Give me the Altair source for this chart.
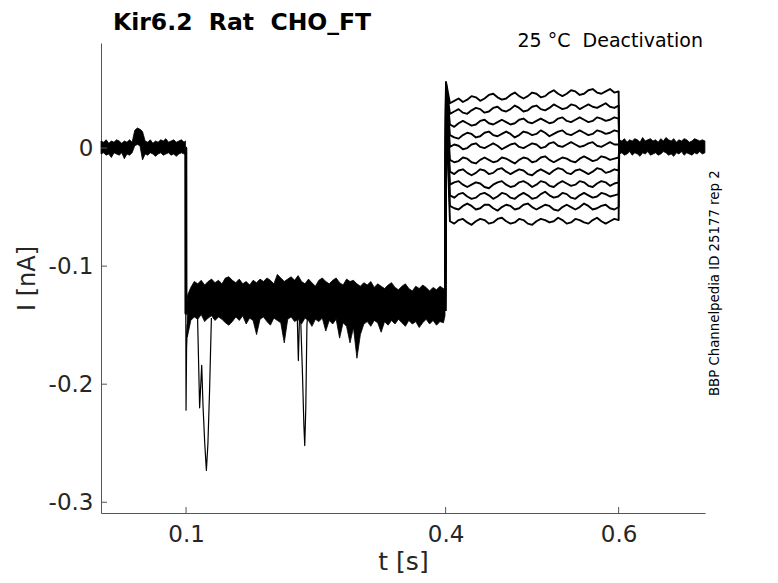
import altair as alt
import pandas as pd

# ---------------- axes ----------------
X_DOMAIN = [0.0017, 0.6998]
Y_DOMAIN = [-0.3091, 0.089]
X_TICKS = [0.1, 0.4, 0.6]
Y_TICKS = [0, -0.1, -0.2, -0.3]

TITLE = "Kir6.2\u00a0 Rat\u00a0 CHO_FT"
COND = "25 °C\u00a0 Deactivation"
SIDE = "BBP Channelpedia ID 25177 rep 2"

# ---------------- sample grids (s) ----------------
pre_t = [round(0.0017 + 0.003 * k, 4) for k in range(33)] + [0.0993]
mid_t = [round(0.1015 + 0.004 * k, 4) for k in range(75)] + [0.3993]
post_t = [round(0.6007 + 0.003 * k, 4) for k in range(34)]
deact_t = [round(0.405 + 0.005 * k, 4) for k in range(40)]

# ---------------- envelopes of overlapping sweeps (pA) ----------------
pre_hi = [6, 5, 7, 4, 6, 5, 7, 6, 4, 6, 5, 7, 5, 15, 17, 16, 14, 6, 5, 7,
          4, 6, 5, 7, 6, 8, 5, 6, 7, 5, 6, 7, 5, 6]
pre_lo = [-5, -4, -6, -5, -8, -4, -5, -6, -4, -9, -5, -6, -4, 2, 3, 2, -10, -5, -6, -4,
          -5, -7, -5, -4, -6, -5, -4, -6, -5, -7, -5, -4, -5, -5]

mid_hi = [-125, -118, -113, -115, -112, -116, -113, -111, -114, -112,
          -115, -110, -109, -112, -114, -111, -115, -113, -116, -112,
          -114, -111, -113, -110, -112, -115, -107, -110, -113, -111,
          -109, -112, -108, -113, -115, -111, -114, -117, -112, -110,
          -113, -115, -112, -110, -114, -116, -111, -113, -112, -115,
          -117, -114, -116, -113, -118, -115, -117, -119, -116, -114,
          -118, -120, -117, -115, -119, -121, -117, -119, -116, -118,
          -121, -118, -120, -117, -119, -120]
mid_lo = [-160, -146, -143, -145, -141, -147, -144, -142, -146, -143,
          -145, -148, -150, -147, -143, -146, -142, -149, -144, -146,
          -158, -145, -143, -147, -150, -144, -146, -148, -165, -145,
          -143, -147, -145, -149, -144, -146, -151, -145, -147, -144,
          -155, -146, -149, -145, -161, -148, -151, -165, -152, -178,
          -158, -149, -147, -151, -146, -148, -156, -147, -150, -146,
          -149, -145, -148, -151, -146, -149, -147, -152, -148, -145,
          -149, -146, -150, -147, -148, -142]

post_hi = [7, 6, 8, 5, 7, 6, 8, 7, 5, 9, 6, 7, 8, 6, 7, 5, 8, 6, 9, 7,
           6, 8, 5, 7, 6, 8, 7, 5, 6, 8, 7, 6, 7, 6]
post_lo = [-5, -4, -6, -5, -3, -6, -4, -5, -7, -4, -5, -3, -6, -5, -4, -6, -5, -3, -4, -6,
           -5, -7, -4, -5, -3, -6, -4, -5, -6, -4, -5, -3, -5, -4]

# ---------------- individual excursions (s, pA) ----------------
step_thick_t = [0.0993, 0.0997, 0.0999, 0.1015]
step_thick_i = [0, 0, -140, -130]
step_spike_t = [0.0997, 0.1000, 0.1006, 0.1015, 0.1030]
step_spike_i = [-135, -222, -170, -150, -142]
dipA_t = [0.1132, 0.1157, 0.1181, 0.1196, 0.1216, 0.1235, 0.1253, 0.1272, 0.1293]
dipA_i = [-140, -220, -184, -218, -250, -273, -250, -205, -144]
dipB_t = [0.2285, 0.2298, 0.2310, 0.2325, 0.2345, 0.2362, 0.2372, 0.2384, 0.2397, 0.2405]
dipB_i = [-142, -180, -146, -145, -190, -235, -252, -220, -150, -142]

# ---------------- deactivation sweeps (pA) ----------------
deact_peak = [56, 55, 54, 53, 52, 50, 48, 46, 44, 42, 40]
deact = [
    [38, 40, 42, 39, 41, 44, 43, 40, 42, 45, 46, 43, 41, 42, 45, 47, 44, 42, 44, 47,
     46, 43, 44, 47, 49, 46, 44, 46, 49, 48, 45, 46, 49, 50, 47, 46, 48, 50, 47, 48],
    [29, 31, 33, 30, 29, 32, 34, 33, 30, 31, 34, 35, 32, 31, 33, 36, 34, 31, 32, 35,
     36, 33, 32, 34, 37, 35, 33, 34, 37, 36, 33, 35, 37, 35, 34, 36, 38, 35, 34, 36],
    [20, 18, 21, 23, 21, 19, 20, 23, 24, 21, 20, 22, 24, 22, 20, 21, 24, 25, 22, 21,
     23, 25, 23, 21, 22, 25, 26, 23, 22, 24, 26, 24, 22, 23, 26, 25, 23, 24, 26, 25],
    [11, 9, 8, 11, 13, 12, 9, 10, 13, 14, 11, 10, 12, 14, 12, 9, 11, 14, 13, 11,
     12, 15, 13, 10, 12, 14, 15, 12, 11, 13, 15, 13, 11, 12, 15, 14, 12, 13, 15, 14],
    [1, 3, 2, -1, 0, 3, 4, 1, 0, 2, 4, 2, -1, 1, 3, 4, 1, 0, 2, 4,
     3, 0, 1, 4, 5, 2, 1, 3, 5, 3, 1, 2, 4, 5, 2, 1, 3, 5, 3, 3],
    [-10, -12, -11, -8, -9, -12, -13, -10, -8, -10, -12, -11, -8, -9, -11, -13, -10, -8, -9, -12,
     -11, -8, -7, -10, -12, -10, -8, -9, -11, -12, -9, -7, -9, -11, -10, -7, -8, -10, -9, -8],
    [-20, -22, -19, -18, -21, -23, -21, -18, -19, -22, -21, -18, -17, -20, -22, -20, -18, -19, -22, -23,
     -20, -18, -20, -22, -19, -17, -18, -21, -22, -19, -18, -20, -22, -20, -17, -18, -21, -20, -18, -19],
    [-31, -29, -28, -31, -33, -31, -29, -30, -33, -34, -31, -29, -28, -31, -33, -32, -29, -28, -30, -33,
     -31, -28, -29, -32, -33, -30, -28, -30, -32, -31, -28, -29, -32, -33, -30, -28, -29, -32, -30, -29],
    [-40, -42, -39, -38, -41, -43, -42, -39, -38, -40, -43, -41, -38, -39, -42, -43, -40, -38, -40, -43,
     -42, -39, -37, -40, -42, -41, -38, -39, -42, -43, -40, -38, -40, -42, -41, -38, -39, -41, -40, -39],
    [-49, -51, -52, -49, -47, -49, -52, -51, -48, -48, -51, -53, -50, -48, -49, -52, -51, -48, -47, -50,
     -52, -50, -48, -49, -52, -53, -50, -48, -50, -52, -50, -47, -49, -52, -51, -49, -48, -51, -52, -50],
    [-62, -64, -61, -60, -63, -65, -62, -60, -61, -64, -63, -60, -59, -62, -64, -63, -60, -61, -64, -65,
     -62, -60, -61, -63, -62, -59, -61, -64, -63, -60, -61, -63, -64, -61, -59, -62, -64, -62, -60, -61],
]

# ---------------- tables ----------------
band_rows = []
for seg, ts, los, his in [("pre", pre_t, pre_lo, pre_hi),
                          ("mid", mid_t, mid_lo, mid_hi),
                          ("post", post_t, post_lo, post_hi)]:
    for t, lo, hi in zip(ts, los, his):
        band_rows.append({"seg": seg, "t": t, "lo": lo / 1000, "hi": hi / 1000})
band_df = pd.DataFrame(band_rows)

line_rows = []


def add_trace(name, ts, vals, w):
    for k, (t, v) in enumerate(zip(ts, vals)):
        line_rows.append({"trace": name, "idx": k, "t": t, "I": v / 1000, "w": w})


add_trace("step_thick", step_thick_t, step_thick_i, 3.0)
add_trace("step_spike", step_spike_t, step_spike_i, 1.2)
add_trace("dipA", dipA_t, dipA_i, 1.2)
add_trace("dipB", dipB_t, dipB_i, 1.2)
for n, (pk, vals) in enumerate(zip(deact_peak, deact)):
    ts = [0.3995, 0.4004] + deact_t + [0.6006]
    vs = [-138, pk] + vals + [0]
    add_trace(f"sweep{n}", ts, vs, 1.9)
line_df = pd.DataFrame(line_rows)

# ---------------- chart ----------------
x_scale = alt.Scale(domain=X_DOMAIN, nice=False, zero=False)
y_scale = alt.Scale(domain=Y_DOMAIN, nice=False, zero=False)
FONT = "DejaVu Sans"
AX = "#555555"
TXT = "#262626"
label_expr = ("datum.value == 0 ? '0' : (datum.value < 0 ? '-' + format(-datum.value, '.1f')"
              " : format(datum.value, '.1f'))")

x_axis = alt.Axis(values=X_TICKS, title="t [s]", ticks=False, grid=False,
                  domainColor=AX, domainWidth=1, labelFont=FONT, labelFontSize=23,
                  labelColor=TXT, labelPadding=10, labelFlush=False, labelExpr=label_expr,
                  titleFont=FONT, titleFontSize=25, titleFontWeight="normal", titleColor=TXT,
                  titleX=302, titleY=56, titleBaseline="alphabetic", titleAlign="center")
y_axis = alt.Axis(values=Y_TICKS, title="I [nA]", ticks=False, grid=False,
                  domainColor=AX, domainWidth=1, labelFont=FONT, labelFontSize=23,
                  labelColor=TXT, labelPadding=8, labelFlush=False, labelExpr=label_expr,
                  titleFont=FONT, titleFontSize=24, titleFontWeight="normal", titleColor=TXT,
                  titleX=-74, titleY=235, titleAngle=270, titleBaseline="middle",
                  titleAlign="center")

bands = alt.Chart(band_df).mark_area(color="black", stroke="black", strokeWidth=0.8,
                                     opacity=1).encode(
    x=alt.X("t:Q", scale=x_scale, axis=x_axis, title="t [s]"),
    y=alt.Y("lo:Q", scale=y_scale, axis=y_axis, title="I [nA]"),
    y2="hi:Q",
    detail="seg:N",
)

lines = alt.Chart(line_df).mark_line(color="black", strokeJoin="round").encode(
    x=alt.X("t:Q", scale=x_scale, axis=x_axis, title="t [s]"),
    y=alt.Y("I:Q", scale=y_scale, axis=y_axis, title="I [nA]"),
    detail="trace:N",
    order="idx:Q",
    strokeWidth=alt.StrokeWidth("w:Q", scale=None),
)

xt = alt.Chart(pd.DataFrame({"t": X_TICKS})).mark_rule(color=AX, strokeWidth=1).encode(
    x=alt.X("t:Q", scale=x_scale, axis=x_axis, title="t [s]"),
    y=alt.value(470), y2=alt.value(464))
yt = alt.Chart(pd.DataFrame({"I": Y_TICKS})).mark_rule(color=AX, strokeWidth=1).encode(
    y=alt.Y("I:Q", scale=y_scale, axis=y_axis, title="I [nA]"),
    x=alt.value(0), x2=alt.value(6))

title_txt = alt.Chart(pd.DataFrame({"s": [TITLE]})).mark_text(
    align="left", baseline="alphabetic", font=FONT, fontSize=23.5, fontWeight="bold",
    color="black").encode(text="s:N", x=alt.value(12), y=alt.value(-13.2))
cond_txt = alt.Chart(pd.DataFrame({"s": [COND]})).mark_text(
    align="right", baseline="alphabetic", font=FONT, fontSize=19,
    color="black").encode(text="s:N", x=alt.value(602), y=alt.value(4.3))
side_txt = alt.Chart(pd.DataFrame({"s": [SIDE]})).mark_text(
    align="left", baseline="alphabetic", font=FONT, fontSize=13.3, angle=270,
    color="black").encode(text="s:N", x=alt.value(617.5), y=alt.value(353))

chart = alt.layer(bands, lines, xt, yt, title_txt, cond_txt, side_txt).properties(
    width=604, height=470,
    padding={"left": 93, "top": 35, "right": 55, "bottom": 62},
    autosize=alt.AutoSizeParams(type="none"),
    background="white",
).configure_view(stroke=None)

chart.save("out.html", embed_options={"renderer": "svg", "actions": False})
